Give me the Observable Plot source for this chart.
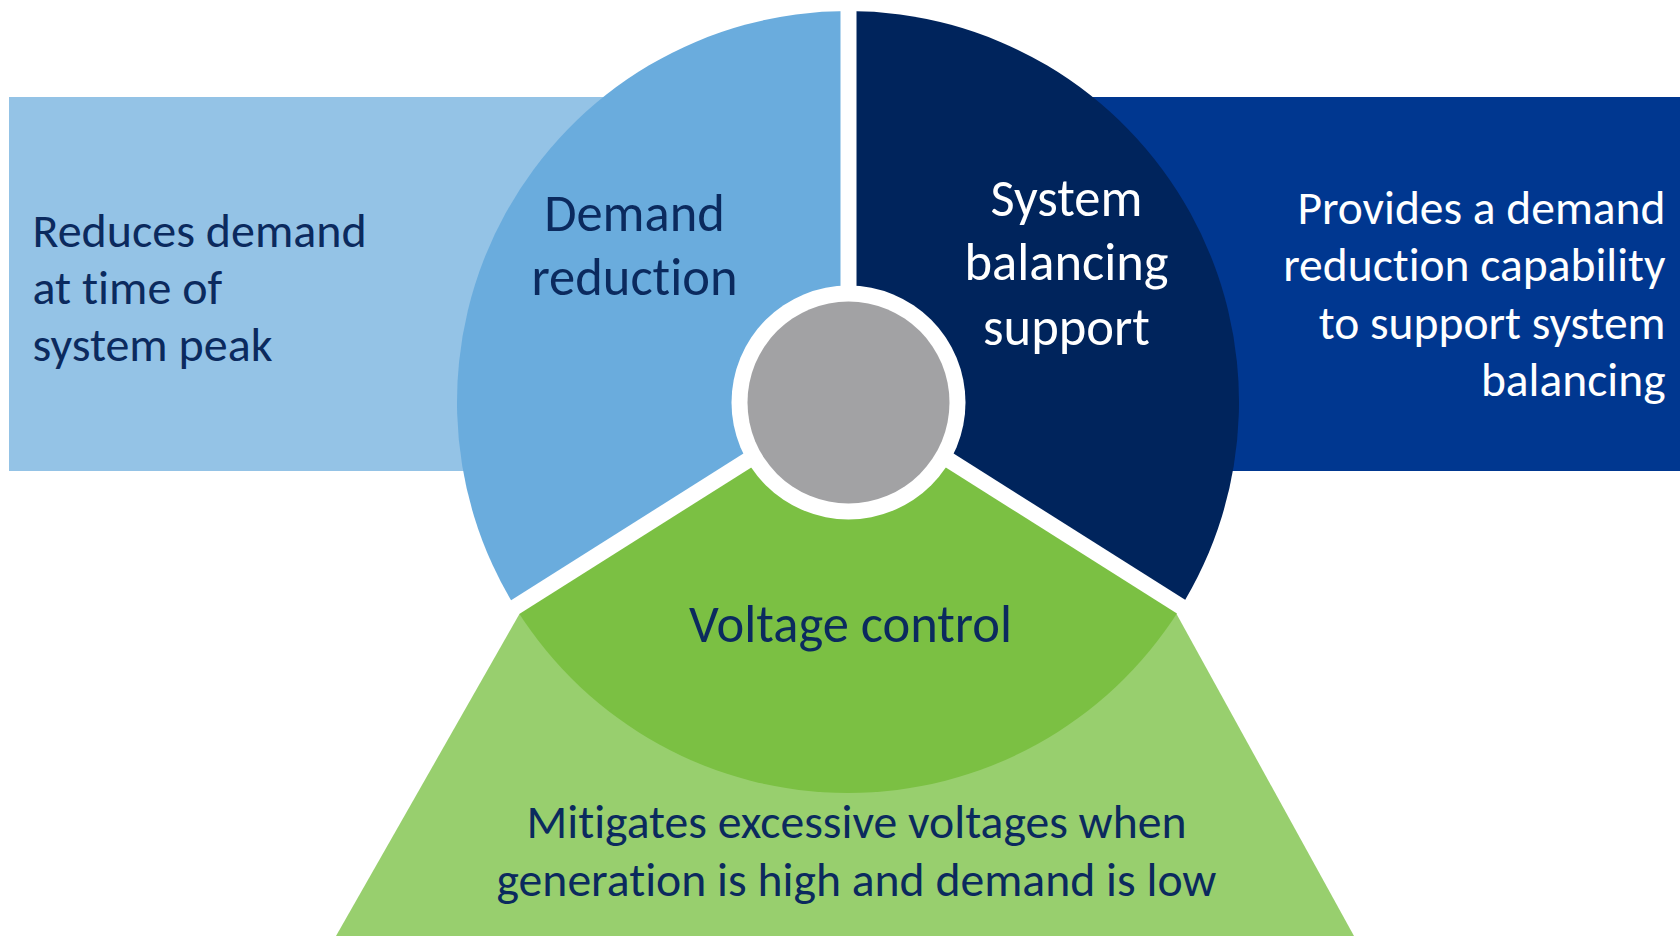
<!DOCTYPE html>
<html>
<head>
<meta charset="utf-8">
<script src="https://cdn.jsdelivr.net/npm/d3@7"></script>
<script src="https://cdn.jsdelivr.net/npm/@observablehq/plot@0.6"></script>
<style>
  html, body { margin: 0; padding: 0; background: #ffffff; overflow: hidden; }
  svg text { font-variant-ligatures: none; }
</style>
</head>
<body>
<div id="chart"></div>
<script>
// ---------------- data ----------------
const segmentLabels = ["Demand\nreduction", "System\nbalancing\nsupport", "Voltage control"];
const segmentStartDeg = [237.7, 0, 122.3];
const segmentEndDeg = [360, 122.3, 237.7];
const segmentColors = ["#6AACDD", "#00245C", "#7BC043"];
const segmentTextColors = ["#0B2A5E", "#FFFFFF", "#0B2A5E"];

const descriptionLabels = [
  "Reduces demand\nat time of\nsystem peak",
  "Provides a demand\nreduction capability\nto support system\nbalancing",
  "Mitigates excessive voltages when\ngeneration is high and demand is low"
];
const descriptionColors = ["#94C3E6", "#003790", "#98CF6E"];
const descriptionTextColors = ["#0B2A5E", "#FFFFFF", "#0B2A5E"];

const hubColor = "#A2A2A4";

// ---------------- layout ----------------
const W = 1680, H = 936;
const cx = 848, cy = 402, R = 391;
const ringR = 117, hubR = 101, gapW = 16;
const gapOrigin = {x: 848, y: 396};
const FONT = "Carlito, Calibri, Lato, 'Open Sans', sans-serif";

// description panels
const panels = [
  {x1: 9, x2: cx, y1: 97, y2: 471, fill: descriptionColors[0]},
  {x1: cx, x2: W, y1: 97, y2: 471, fill: descriptionColors[1]}
];
const trapezoid = [
  {y: 613, x1: 520, x2: 1176},
  {y: H, x1: 336, x2: 1354}
];

// sectors
const sectors = segmentLabels.map((label, i) => ({
  label, start: segmentStartDeg[i], end: segmentEndDeg[i], fill: segmentColors[i]
}));

// white gap lines at the sector boundaries
const gapAngles = [0, 122.3, 237.7];
const gapLen = 396;
const gaps = gapAngles.map(a => {
  const r = a * Math.PI / 180;
  return {x1: gapOrigin.x, y1: gapOrigin.y,
          x2: gapOrigin.x + gapLen * Math.sin(r), y2: gapOrigin.y - gapLen * Math.cos(r)};
});

// text placements (y = centre of block)
const segmentText = [
  {x: 634, y: 242, text: segmentLabels[0], fill: segmentTextColors[0]},
  {x: 1066, y: 259, text: segmentLabels[1], fill: segmentTextColors[1]},
  {x: 850, y: 621, text: segmentLabels[2], fill: segmentTextColors[2]}
];
const descText = [
  {x: 32, y: 285, text: descriptionLabels[0], fill: descriptionTextColors[0], anchor: "start"},
  {x: 1665, y: 291, text: descriptionLabels[1], fill: descriptionTextColors[1], anchor: "end"},
  {x: 856, y: 848, text: descriptionLabels[2], fill: descriptionTextColors[2], anchor: "middle"}
];

// custom sector mark drawn through Plot's scales
function sectorMark(data) {
  return (index, scales) => {
    const g = d3.create("svg:g");
    const x0 = scales.x(cx), y0 = scales.y(cy);
    const rr = scales.x(cx + R) - x0;
    const arc = d3.arc().innerRadius(0).outerRadius(rr);
    for (const d of data) {
      g.append("path")
        .attr("transform", `translate(${x0},${y0})`)
        .attr("d", arc({startAngle: d.start * Math.PI / 180, endAngle: d.end * Math.PI / 180}))
        .attr("fill", d.fill);
    }
    return g.node();
  };
}

const chart = Plot.plot({
  width: W,
  height: H,
  margin: 0,
  x: {domain: [0, W], range: [0, W], axis: null},
  y: {domain: [0, H], range: [0, H], axis: null},
  style: `background:#ffffff;font-family:${FONT};font-variant-ligatures:none;`,
  marks: [
    Plot.rect(panels, {x1: "x1", x2: "x2", y1: "y1", y2: "y2", fill: "fill"}),
    Plot.areaX(trapezoid, {y: "y", x1: "x1", x2: "x2", fill: descriptionColors[2], curve: "linear"}),
    sectorMark(sectors),
    Plot.link(gaps, {x1: "x1", y1: "y1", x2: "x2", y2: "y2", stroke: "#ffffff", strokeWidth: gapW, strokeLinecap: "butt"}),
    Plot.dot([{x: cx, y: cy}], {x: "x", y: "y", r: ringR, fill: "#ffffff"}),
    Plot.dot([{x: cx, y: cy}], {x: "x", y: "y", r: hubR, fill: hubColor}),
    Plot.text(segmentText, {x: "x", y: "y", text: "text", fill: "fill", fontSize: 52.5, lineHeight: 1.23, textAnchor: "middle", fontFamily: FONT}),
    Plot.text(descText.filter(d => d.anchor === "start"), {x: "x", y: "y", text: "text", fill: "fill", fontSize: 48, lineHeight: 1.19, textAnchor: "start", fontFamily: FONT}),
    Plot.text(descText.filter(d => d.anchor === "end"), {x: "x", y: "y", text: "text", fill: "fill", fontSize: 47.5, lineHeight: 1.21, textAnchor: "end", fontFamily: FONT}),
    Plot.text(descText.filter(d => d.anchor === "middle"), {x: "x", y: "y", text: "text", fill: "fill", fontSize: 47.7, lineHeight: 1.22, textAnchor: "middle", fontFamily: FONT})
  ]
});
document.getElementById("chart").appendChild(chart);
</script>
</body>
</html>
